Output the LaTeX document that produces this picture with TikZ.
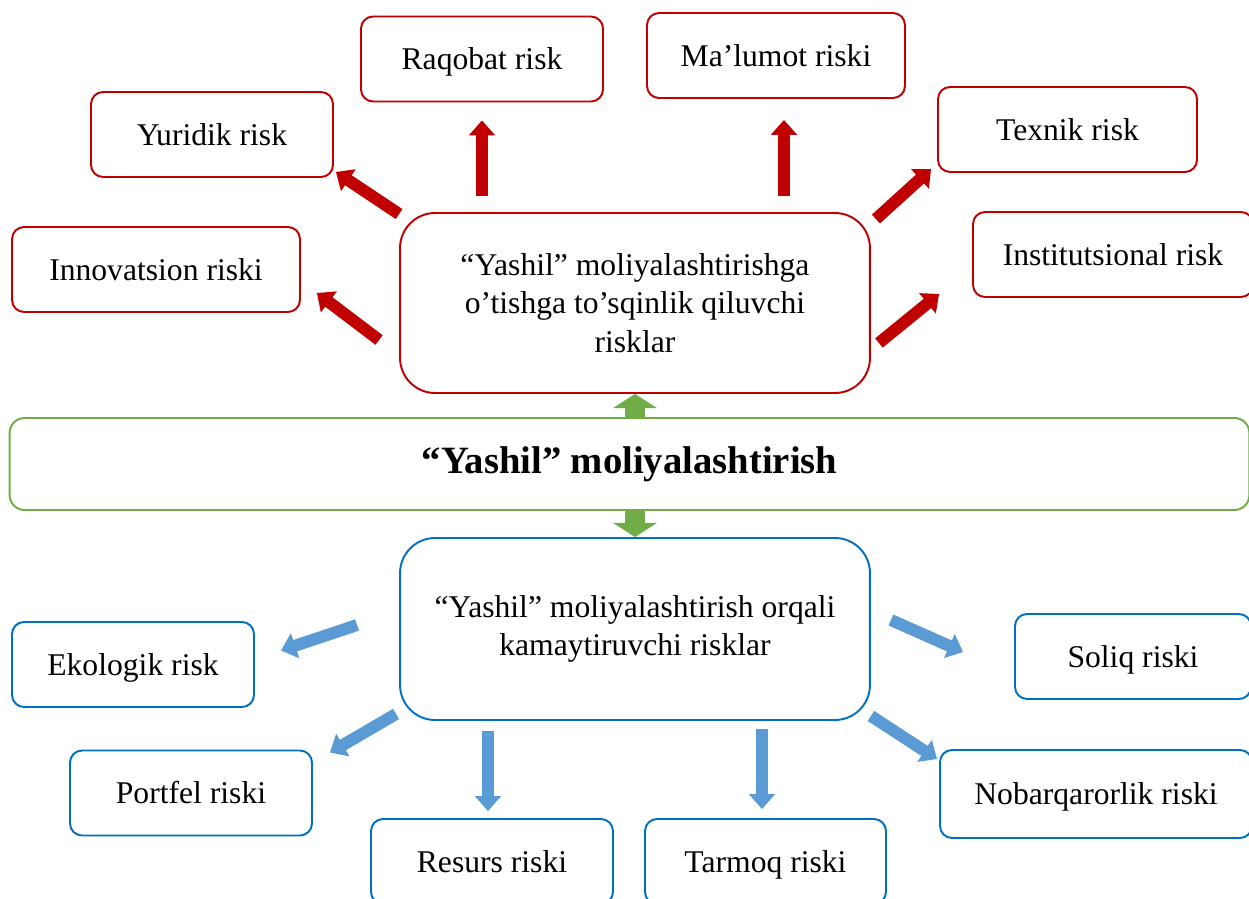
\documentclass[tikz,border=0pt]{standalone}
\usepackage{fontspec}
\setmainfont{Liberation Serif}
\usepackage{xcolor}
\usepackage{tikz}
\usetikzlibrary{positioning,%
  arrows.meta,%
  calc%
}
\definecolor{riskred}{HTML}{C00000}
\definecolor{yashilgreen}{HTML}{70AD47}
\definecolor{kamblue}{HTML}{0070C0}
\definecolor{kamarrow}{HTML}{5B9BD5}
\tikzset{
  riskbox/.style={draw=riskred, line width=1.1pt, rounded corners=0.24cm, minimum height=1.7cm, align=center,
    font=\fontsize{18}{22}\selectfont},
  onebox/.style={riskbox, text height=15pt, text depth=3pt},
  kambox/.style={onebox, draw=kamblue},
  redarrow/.style={draw=riskred, line width=6.8pt, -{Triangle[width=14.5pt,length=8.5pt]}},
  bluearrow/.style={redarrow, draw=kamarrow},
  greenarrow/.style={draw=yashilgreen, line width=11.9pt, -{Triangle[width=24.5pt,length=8pt]}}
}
\begin{document}
\begin{tikzpicture}[x=0.02cm,y=-0.02cm]
  \useasboundingbox (0,0) rectangle (1249,899);

  \node[onebox, minimum width=4.84cm] (raq) at (482,59) {Raqobat risk};
  \node[onebox, minimum width=5.16cm] (mal) at (776,55.5) {Ma’lumot riski};
  \node[onebox, minimum width=4.84cm] (yur) at (212,134.5) {Yuridik risk};
  \node[onebox, minimum width=5.18cm] (tex) at (1067.5,129.5) {Texnik risk};
  \node[onebox, minimum width=5.76cm] (inn) at (156,269.5) {Innovatsion riski};
  \node[onebox, minimum width=5.6cm] (ins) at (1113,254.5) {Institutsional risk};
  \node[riskbox, minimum width=9.4cm, minimum height=3.6cm, rounded corners=0.7cm] (risks) at (635,303)
    {“Yashil” moliyalashtirishga\\o’tishga to’sqinlik qiluvchi\\risklar};

  \node[riskbox, draw=yashilgreen, minimum width=24.8cm, minimum height=1.84cm, rounded corners=0.3cm,
    font=\fontsize{22}{26}\selectfont\bfseries] (yashil) at (629.5,464) {“Yashil” moliyalashtirish};

  \node[riskbox, draw=kamblue, minimum width=9.4cm, minimum height=3.64cm, rounded corners=0.7cm] (kam) at (635,629)
    {“Yashil” moliyalashtirish orqali\\kamaytiruvchi risklar};
  \node[kambox, minimum width=4.84cm] (eko) at (133,664.5) {Ekologik risk};
  \node[kambox, minimum width=4.72cm] (sol) at (1133,656.5) {Soliq riski};
  \node[kambox, minimum width=4.84cm] (por) at (191,793) {Portfel riski};
  \node[kambox, minimum width=6.24cm, minimum height=1.76cm] (nob) at (1096,794) {Nobarqarorlik riski};
  \node[kambox, minimum width=4.84cm] (res) at (492,861.5) {Resurs riski};
  \node[kambox, minimum width=4.82cm] (tar) at (765.5,861.5) {Tarmoq riski};

  \draw[redarrow, shorten <=0.32cm, shorten >=0.36cm] (raq.south |- risks.north) -- (raq.south);
  \draw[redarrow, shorten <=0.32cm, shorten >=0.42cm] ([xshift=0.16cm]mal.south |- risks.north) -- ([xshift=0.16cm]mal.south);
  \draw[redarrow] ([shift={(0,2)}]risks.north west) -- ([shift={(2,-6)}]yur.south east);
  \draw[redarrow] ([shift={(-20,37)}]risks.west) -- ([shift={(16,-20)}]inn.south east);
  \draw[redarrow] ([shift={(5,7)}]risks.north east) -- ([shift={(-6,-4)}]tex.south west);
  \draw[redarrow] ([shift={(8,40)}]risks.east) -- ([shift={(-33,-4)}]ins.south west);

  \draw[greenarrow] (risks.south |- yashil.north) -- (risks.south);
  \draw[greenarrow] (kam.north |- yashil.south) -- (kam.north);

  \draw[bluearrow] ([shift={(-42,-4)}]kam.west) -- ([shift={(26,-14)}]eko.east);
  \draw[bluearrow] ([shift={(-3,-7)}]kam.south west) -- ([shift={(17,3)}]por.north east);
  \draw[bluearrow, shorten <=0.2cm, shorten >=0.14cm] ([xshift=-0.08cm]res.north |- kam.south) -- ([xshift=-0.08cm]res.north);
  \draw[bluearrow, shorten <=0.16cm, shorten >=0.18cm] ([xshift=-0.07cm]tar.north |- kam.south) -- ([xshift=-0.07cm]tar.north);
  \draw[bluearrow] ([shift={(20,-9)}]kam.east) -- ([shift={(-51,-4.5)}]sol.west);
  \draw[bluearrow] ([shift={(0,-5)}]kam.south east) -- ([shift={(-2,10)}]nob.north west);
\end{tikzpicture}
\end{document}
